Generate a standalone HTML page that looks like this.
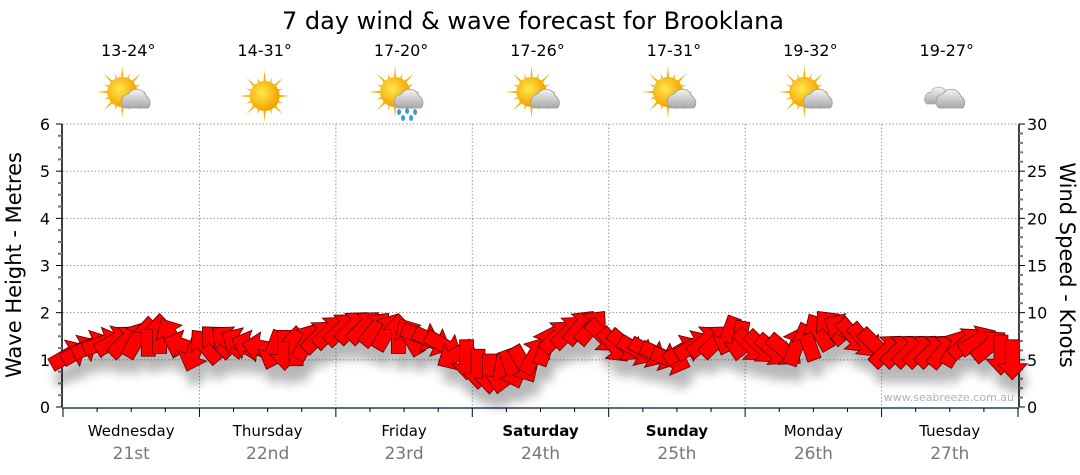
<!DOCTYPE html>
<html><head><meta charset="utf-8">
<style>
body{margin:0;background:#fff;}
svg{display:block;font-family:"DejaVu Sans","Liberation Sans",sans-serif;}
</style></head>
<body>
<svg id="c" width="1080" height="475" viewBox="0 0 1080 475" xmlns="http://www.w3.org/2000/svg">
<defs>
<filter id="sh" x="-50%" y="-50%" width="200%" height="200%"><feGaussianBlur stdDeviation="5"/></filter>
<radialGradient id="sun" cx="0.4" cy="0.4" r="0.6"><stop offset="0" stop-color="#ffe94a"/><stop offset="1" stop-color="#f5a000"/></radialGradient>
<linearGradient id="cl" x1="0" y1="0" x2="0" y2="1"><stop offset="0" stop-color="#f4f4f4"/><stop offset="1" stop-color="#a8a8a8"/></linearGradient>
</defs>
<text x="533" y="29" font-size="24" text-anchor="middle" fill="#000">7 day wind &amp; wave forecast for Brooklana</text>
<g id="grid"></g>
<g id="axes"></g>
<g id="icons"></g>
<g id="shadows" filter="url(#sh)" opacity="0.28"></g>
<g id="arrows"></g>
<text x="1014" y="401" font-size="11" text-anchor="end" fill="#a8b4c4">www.seabreeze.com.au</text>
<text transform="translate(21,265) rotate(-90)" font-size="21" text-anchor="middle">Wave Height - Metres</text>
<text transform="translate(1060,265) rotate(90)" font-size="21" text-anchor="middle">Wind Speed - Knots</text>
</svg>
<script>
const days=["Wednesday","Thursday","Friday","Saturday","Sunday","Monday","Tuesday"];
const dates=["21st","22nd","23rd","24th","25th","26th","27th"];
const boldDays=[false,false,false,true,true,false,false];
const temps=["13-24°","14-31°","17-20°","17-26°","17-31°","19-32°","19-27°"];
const weather=["partly","sunny","showers","partly","partly","partly","cloudy"];
const waveTicks=[0,1,2,3,4,5,6];
const windTicks=[0,5,10,15,20,25,30];
const speeds=[5.5,6,6.5,6.8,7,7,7.2,7.5,7.8,7.5,6.5,5.8,
6.5,7,7,6.8,6.5,6.3,6,6,6.5,7,7.5,8,
8.3,8.5,8.5,8.3,8,7.8,7.5,7.5,7,6.5,5.5,5,
4,3.5,3.5,4,4.5,5.5,6.5,7.5,8,8.5,8.5,7.5,
6.5,6.5,6,5.8,5.5,5,6,6.5,7,7,7.5,7,
6.5,6.3,6,6,6.5,7,8,8.5,8.3,7.5,7,6.5,
6,6,6,6,6,6,6.3,6.8,7,6.5,5.5,5];
const dirs=[60,60,65,70,60,45,30,0,0,330,290,200,
320,315,310,300,290,280,200,180,0,30,45,45,
45,45,45,40,30,0,330,110,115,120,240,180,
180,180,190,160,150,30,20,45,45,40,40,135,
140,130,120,120,115,110,60,60,50,45,200,190,
135,135,130,130,20,340,330,320,300,140,140,135,
45,45,45,45,45,40,30,50,60,50,180,180];

const NS="http://www.w3.org/2000/svg";
const X0=63,X1=1018,Y0=407,Y1=124;
const xDay=d=>X0+(X1-X0)*d/7;
const yWave=v=>Y0-(Y0-Y1)*v/6;
const yWind=v=>Y0-(Y0-Y1)*v/30;
function mk(tag,attrs,parent,txt){const e=document.createElementNS(NS,tag);for(const k in attrs)e.setAttribute(k,attrs[k]);if(txt!==undefined)e.textContent=txt;parent.appendChild(e);return e;}
const grid=document.getElementById('grid'),axes=document.getElementById('axes'),icons=document.getElementById('icons');
waveTicks.forEach(v=>{if(v>0){const l=mk('line',{x1:X0,x2:X1,y1:yWave(v),y2:yWave(v),stroke:'#999','stroke-dasharray':'1.5,2','stroke-width':1},grid);}});
for(let d=1;d<7;d++){const l=mk('line',{x1:xDay(d),x2:xDay(d),y1:Y1,y2:Y0,stroke:'#999','stroke-dasharray':'1.5,2','stroke-width':1},grid);}
let a=mk('line',{x1:X0-1,x2:X0-1,y1:Y1,y2:Y0,stroke:'#000','stroke-width':1.5},axes);
for(let i=0;i<=24;i++){const y=Y0-(Y0-Y1)*i/24;const maj=i%4==0;mk('line',{x1:X0-(maj?7:5),x2:X0-1,y1:y,y2:y,stroke:maj?'#000':'#777','stroke-width':maj?1:2},axes);}
waveTicks.forEach(v=>{const t=mk('text',{x:50,y:yWave(v)+6,'font-size':16,'text-anchor':'end'},axes,String(v));});
a=mk('line',{x1:X1+1,x2:X1+1,y1:Y1,y2:Y0,stroke:'#000','stroke-width':1.5},axes);
for(let i=0;i<=30;i++){const y=yWind(i);const maj=i%5==0;mk('line',{x1:X1+1,x2:X1+(maj?7:5),y1:y,y2:y,stroke:maj?'#000':'#777','stroke-width':maj?1:2},axes);}
windTicks.forEach(v=>{const t=mk('text',{x:1027,y:yWind(v)+6,'font-size':16,'text-anchor':'start'},axes,String(v));});
a=mk('line',{x1:X0-1,x2:X1+1,y1:Y0+1,y2:Y0+1,stroke:'#1f3f5f','stroke-width':1.5},axes);
for(let i=0;i<=28;i++){const x=X0+(X1-X0)*i/28;const maj=i%4==0;mk('line',{x1:x,x2:x,y1:Y0+1,y2:Y0+(maj?10:5),stroke:'#000','stroke-width':1},axes);}
days.forEach((d,i)=>{const cx=xDay(i+0.5);
 const t=mk('text',{x:cx,y:436,'font-size':15,'text-anchor':'middle','font-weight':boldDays[i]?'bold':'normal'},axes,d);
 const t2=mk('text',{x:cx,y:459,'font-size':17,'text-anchor':'middle',fill:'#777'},axes,dates[i]);
 const t3=mk('text',{x:cx-3,y:56,'font-size':16,'text-anchor':'middle'},icons,temps[i]);
 const g=mk('g',{transform:`translate(${cx-3},96)`},icons);
 const w=weather[i];
 if(w!=='cloudy'){const sx=w==='sunny'?0:-6,sy=w==='sunny'?0:-4;
  for(let k=0;k<16;k++){const ang=k*Math.PI/8,len=k%2?20:26;mk('polygon',{points:`${sx+Math.cos(ang-0.12)*12},${sy+Math.sin(ang-0.12)*12} ${sx+Math.cos(ang)*len},${sy+Math.sin(ang)*len} ${sx+Math.cos(ang+0.12)*12},${sy+Math.sin(ang+0.12)*12}`,fill:'#f3b400'},g);}
  mk('circle',{cx:sx,cy:sy,r:15,fill:'url(#sun)'},g);}
 if(w==='partly'||w==='showers'){mk('path',{d:'M-4,12 a8,8 0 0 1 4,-14 a10,10 0 0 1 18,2 a8,8 0 0 1 2,12 z',fill:'url(#cl)',stroke:'#999','stroke-width':0.8},g);}
 if(w==='showers'){[[-2,16],[6,15],[14,16],[2,22],[10,22]].forEach(p=>mk('ellipse',{cx:p[0],cy:p[1],rx:2,ry:3,fill:'#3a9be0'},g));}
 if(w==='cloudy'){mk('path',{d:'M-20,8 a7,7 0 0 1 4,-12 a9,9 0 0 1 16,0 a7,7 0 0 1 2,12 z',fill:'url(#cl)',stroke:'#aaa','stroke-width':0.8},g);mk('path',{d:'M-8,12 a8,8 0 0 1 4,-14 a10,10 0 0 1 18,2 a8,8 0 0 1 2,12 z',fill:'url(#cl)',stroke:'#999','stroke-width':0.8},g);}
});
const sh=document.getElementById('shadows'),ar=document.getElementById('arrows');
const shape="M-7,20 L-7,-4 L-15,-4 L0,-20 L15,-4 L7,-4 L7,20 Z";
speeds.forEach((s,i)=>{const x=X0+(X1-X0)*(i+0.5)/speeds.length,y=yWind(s);
 const sp=mk('path',{d:shape,fill:'#000',transform:`translate(${x+4},${y+16}) rotate(${dirs[i]})`},sh);
 
 
 const p=mk('path',{d:shape,fill:'#ff0000',stroke:'#5a0000','stroke-width':0.8,transform:`translate(${x},${y}) rotate(${dirs[i]})`},ar);
 
 
});
</script>
</body></html>
